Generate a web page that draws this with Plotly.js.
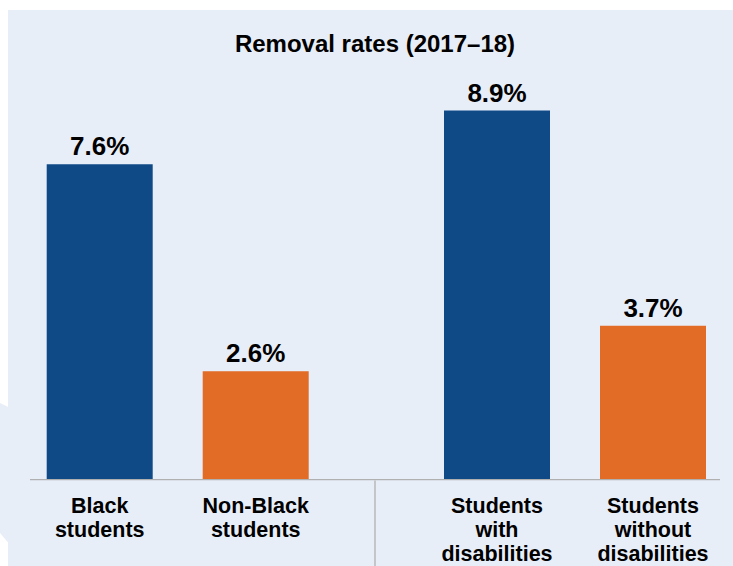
<!DOCTYPE html>
<html>
<head>
<meta charset="utf-8">
<script src="https://cdn.plot.ly/plotly-3.0.1.min.js"></script>
<style>
  html, body { margin: 0; padding: 0; background: #ffffff; }
  #chart { width: 733px; height: 566px; }
</style>
</head>
<body>
<div id="chart"></div>
<script>
// ---- data ----
const chartTitle = 'Removal rates (2017–18)';
const raceLabels = ['Black<br>students', 'Non-Black<br>students'];
const raceRates = [7.6, 2.6];
const disabilityLabels = ['Students<br>with<br>disabilities', 'Students<br>without<br>disabilities'];
const disabilityRates = [8.9, 3.7];
const barColors = ['#0f4a87', '#e26b26'];

// ---- styles ----
const FONT = 'Liberation Sans, Arial, Helvetica, sans-serif';
const PANEL = '#e8eef8';
const W = 733, H = 566, MT = 65, MB = 87;
const PH = H - MT - MB;
const px = v => v / W;
const py = v => (H - MB - v) / PH;

const barCommon = {
  type: 'bar',
  textposition: 'outside',
  texttemplate: '%{y}%',
  textfont: { family: FONT, size: 26, color: '#000', weight: 'bold' },
  constraintext: 'none',
  cliponaxis: false,
  marker: { color: barColors, line: { width: 0 } },
  hoverinfo: 'skip',
  showlegend: false
};

const traces = [
  Object.assign({}, barCommon, { x: raceLabels, y: raceRates, xaxis: 'x', yaxis: 'y' }),
  Object.assign({}, barCommon, { x: disabilityLabels, y: disabilityRates, xaxis: 'x2', yaxis: 'y' })
];

const xCommon = {
  type: 'category',
  showline: false, showgrid: false, zeroline: false,
  ticks: '', tickangle: 0,
  ticklabelstandoff: 11,
  tickfont: { family: FONT, size: 21.5, color: '#000', weight: 'bold' },
  fixedrange: true,
  anchor: 'y'
};

const layout = {
  width: W, height: H,
  margin: { l: 0, r: 0, t: MT, b: MB, pad: 0 },
  paper_bgcolor: '#ffffff',
  plot_bgcolor: 'rgba(0,0,0,0)',
  bargap: 0.3205,
  title: {
    text: chartTitle,
    font: { family: FONT, size: 24, color: '#000', weight: 'bold' },
    x: 375 / W, xref: 'paper', xanchor: 'center',
    y: 1 - 43.3 / H, yref: 'container', yanchor: 'middle'
  },
  xaxis: Object.assign({}, xCommon, { domain: [px(21.7), px(333.7)] }),
  xaxis2: Object.assign({}, xCommon, { domain: [px(419), px(731)] }),
  yaxis: { range: [0, 10], visible: false, showgrid: false, zeroline: false, fixedrange: true },
  shapes: [
    { type: 'rect', xref: 'paper', yref: 'paper', layer: 'below',
      x0: px(8), x1: px(733), y0: py(566), y1: py(10),
      fillcolor: PANEL, line: { width: 0 } },
    { type: 'path', xref: 'paper', yref: 'paper', layer: 'below',
      path: 'M ' + px(0) + ',' + py(403) + ' L ' + px(8.5) + ',' + py(407) +
            ' L ' + px(8.5) + ',' + py(543) + ' L ' + px(0) + ',' + py(533) + ' Z',
      fillcolor: PANEL, line: { width: 0 } },
    { type: 'line', xref: 'paper', yref: 'paper', layer: 'above',
      x0: px(30), x1: px(720), y0: py(479.7), y1: py(479.7),
      line: { color: '#b0b0b0', width: 1.3 } },
    { type: 'line', xref: 'paper', yref: 'paper', layer: 'above',
      x0: px(375), x1: px(375), y0: py(480.5), y1: py(566),
      line: { color: '#b0b0b0', width: 1.3 } }
  ]
};

Plotly.newPlot('chart', traces, layout, { staticPlot: true, displayModeBar: false }).then(function (gd) {
  // set the line spacing of the multi-line category labels
  const LINE_PX = 24.2;
  gd.querySelectorAll('.xtick text, .x2tick text').forEach(function (t) {
    t.querySelectorAll('tspan.line').forEach(function (sp) {
      const dy = parseFloat(sp.getAttribute('dy') || '0');
      const idx = Math.round(dy / 1.3);
      sp.setAttribute('dy', String(idx * LINE_PX));
    });
  });
});
</script>
</body>
</html>
